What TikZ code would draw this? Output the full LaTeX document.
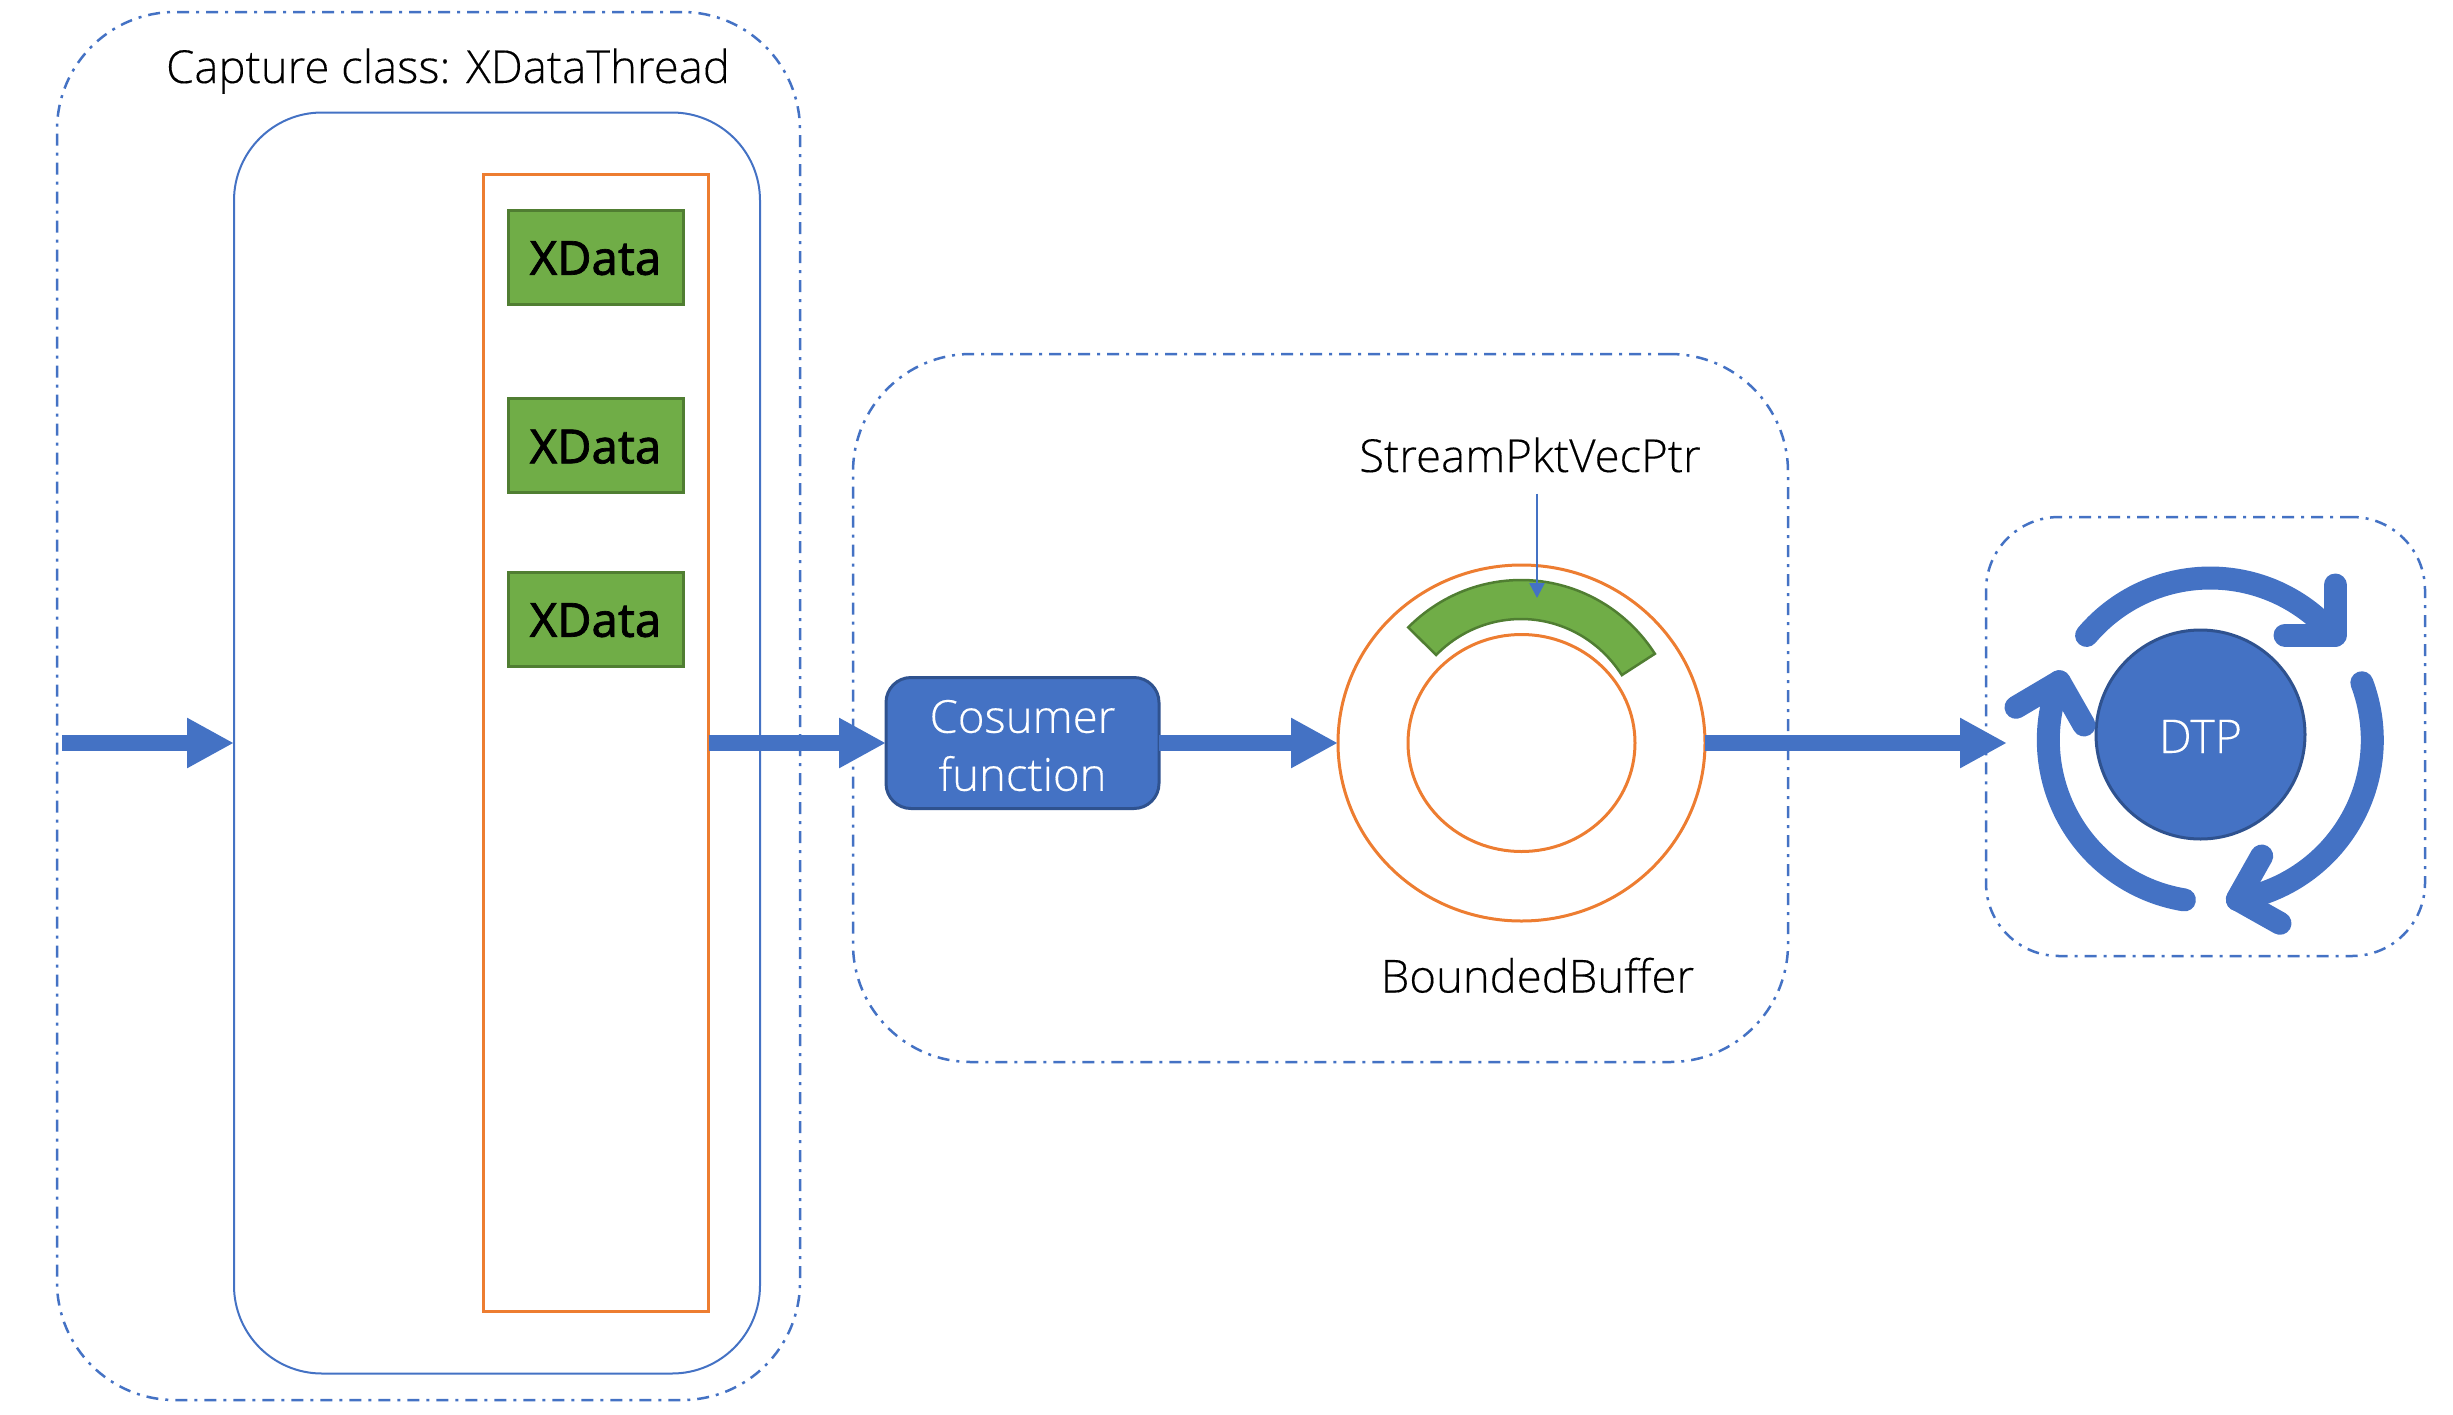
\documentclass[tikz,border=0pt]{standalone}
\usepackage{fontspec}
\setmainfont[FakeBold=0.25]{Open Sans Light}
\newfontfamily\xdfont[FakeBold=1.5]{Noto Sans}
\usetikzlibrary{arrows.meta,shapes.geometric}
\definecolor{bl}{HTML}{4472C4}
\definecolor{dbl}{HTML}{2F528F}
\definecolor{og}{HTML}{ED7D31}
\definecolor{gr}{HTML}{70AD47}
\definecolor{dgr}{HTML}{507E32}
\tikzset{
  box/.style={draw,rectangle,inner sep=0pt,outer sep=0pt},
  dashbox/.style={box,draw=bl,line width=2.5pt,dash pattern=on 12pt off 7pt on 3pt off 7pt},
  xdata/.style={box,draw=dgr,fill=gr,line width=3pt,minimum width=175pt,minimum height=94pt,font=\xdfont\fontsize{47}{50}\selectfont},
  bigarrow/.style={draw=bl,line width=16pt,-{Triangle[length=47pt,width=47pt]}},
  thinarrow/.style={draw=bl,line width=2.5pt,-{Triangle[length=15pt,width=15pt]}},
  ring/.style={draw=og,ellipse,line width=3pt,inner sep=0pt,outer sep=0pt},
  cycle arrow/.style={draw=bl,line width=23pt,line cap=round,line join=round},
  label text/.style={inner sep=0pt,outer sep=0pt,anchor=base,font=\fontsize{45.5}{50}\selectfont}
}
\begin{document}
\begin{tikzpicture}[x=1pt,y=-1pt]
\useasboundingbox (0,0) rectangle (2453,1414);
% containers
\node[dashbox,rounded corners=118pt,minimum width=743pt,minimum height=1388pt] (capture) at (428.5,706) {};
\node[box,draw=bl,line width=2pt,rounded corners=88pt,minimum width=526pt,minimum height=1261pt] (thread) at (497,743) {};
\node[box,draw=og,line width=3pt,minimum width=225pt,minimum height=1137pt] (queue) at (596,743) {};
\node[dashbox,rounded corners=118pt,minimum width=935pt,minimum height=708pt] (middle) at (1320.5,708) {};
\node[dashbox,rounded corners=73pt,minimum width=439pt,minimum height=439pt] (right) at (2205.5,736.5) {};
% xdata
\node[xdata] (x1) at (595.5,257) {\rule{0pt}{36pt}XData};
\node[xdata] (x2) at (595.5,445.5) {\rule{0pt}{36pt}XData};
\node[xdata] (x3) at (595.5,619) {\rule{0pt}{36pt}XData};
% labels
\node[label text] (title) at (448,83) {Capture class: XDataThread};
\node[label text] (spvp) at (1530,472) {StreamPktVecPtr};
\node[label text] (bb) at (1537.5,992.5) {BoundedBuffer};
% consumer
\node[box,draw=dbl,fill=bl,line width=3pt,rounded corners=25pt,minimum width=273pt,minimum height=131pt,text=white,align=center,font=\fontsize{45.5}{58}\selectfont] (cons) at (1022.5,743) {\rule{0pt}{38pt}Cosumer\\function};
% buffer
\node[ring,minimum width=367pt,minimum height=356pt] (outer) at (1521.5,743) {};
\node[ring,minimum width=227pt,minimum height=217pt] (inner) at (1521.5,743) {};
\draw[draw=dgr,fill=gr,line width=2.5pt,line join=miter]
  plot[domain=33.2:134.8,samples=50] ({1521+160*cos(\x)},{743-163*sin(\x)})
  -- plot[domain=134.8:33.2,samples=50] ({1521+120.5*cos(\x)},{743-124*sin(\x)}) -- cycle;
% dtp
\node[draw=dbl,fill=bl,circle,line width=3pt,inner sep=0pt,outer sep=0pt,minimum size=209pt,text=white,font=\fontsize{46.5}{50}\selectfont] (dtp) at (2200.5,734.5) {\rule{0pt}{37pt}DTP};
\draw[cycle arrow] plot[domain=139.8:40.2,samples=60] ({2210.3+162*cos(\x)},{740-162*sin(\x)});
\draw[cycle arrow] (2335,585) -- (2335,635) -- (2285,635);
\draw[cycle arrow] plot[domain=20.7:-80.4,samples=60] ({2210.3+162*cos(\x)},{740-162*sin(\x)});
\draw[cycle arrow] (2261.7,856) -- (2237.3,899.3) -- (2280,923.3);
\draw[cycle arrow] plot[domain=260.8:158.9,samples=60] ({2210.3+162*cos(\x)},{740-162*sin(\x)});
\draw[cycle arrow] (2016,707.3) -- (2059.3,681.7) -- (2084,725);
% connectors
\coordinate (src) at (62,743);
\coordinate (dst) at (2007,743);
\coordinate (ptrs) at (1537,493.5);
\coordinate (ptre) at (1537,598);
\draw[bigarrow] (src) -- (thread.west);
\draw[bigarrow] (queue.east) -- (cons.west);
\draw[bigarrow] (cons.east) -- (outer.west);
\draw[bigarrow] (outer.east) -- (dst);
\draw[thinarrow] (ptrs) -- (ptre);
\end{tikzpicture}
\end{document}
